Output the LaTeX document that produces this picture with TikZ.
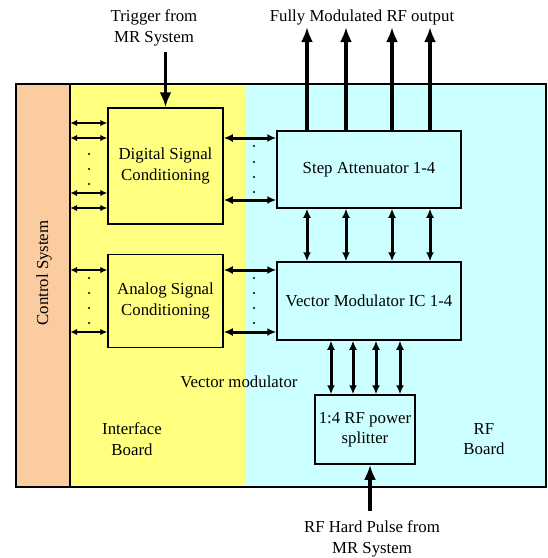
\documentclass[tikz,border=0pt]{standalone}
\usepackage{fontspec}
\setmainfont{Liberation Serif}
\usetikzlibrary{arrows.meta,calc}
\definecolor{ctrlorange}{RGB}{251,204,160}
\definecolor{ifyellow}{RGB}{255,255,128}
\definecolor{rfcyan}{RGB}{204,255,255}
\begin{document}
\begin{tikzpicture}[x=1pt,y=-1pt,
  every node/.style={font=\fontsize{16.8}{20.5}\selectfont, inner sep=0pt, align=center},
  region/.style={draw=none, minimum height=403pt},
  blockbox/.style={draw=black, line width=1.5pt},
  bigout/.style={line width=3.4pt, -{Latex[length=15pt,width=12pt]}},
  dblarrow/.style={line width=3pt, {Latex[length=9pt,width=8pt]}-{Latex[length=9pt,width=8pt]}},
  smalldbl/.style={line width=2.6pt, {Latex[length=7pt,width=6.5pt]}-{Latex[length=7pt,width=6.5pt]}},
  dotmark/.style={fill=black, circle, minimum size=2.2pt, inner sep=0pt}
]
\useasboundingbox (0,0) rectangle (548,558);
% regions
\node[region, fill=ctrlorange, minimum width=54pt] (ctrl) at (43,285.5) {};
\node[region, fill=ifyellow, minimum width=176pt] (iface) at (158,285.5) {};
\node[region, fill=rfcyan, minimum width=300pt] (rf) at (396,285.5) {};
\draw[line width=1.5pt] (ctrl.north west) rectangle (rf.south east);
\draw[line width=1.5pt] (ctrl.north east) -- (ctrl.south east);
% blocks
\node[blockbox, fill=ifyellow, minimum width=115pt, minimum height=116pt] (dig) at (165.5,166) {Digital Signal\\Conditioning};
\node[blockbox, fill=ifyellow, minimum width=115pt, minimum height=93pt] (ana) at (165.5,301) {Analog Signal\\Conditioning};
\node[blockbox, fill=rfcyan, minimum width=184pt, minimum height=77pt] (step) at (369,169.5) {Step Attenuator 1-4};
\node[blockbox, fill=rfcyan, minimum width=184pt, minimum height=78pt] (vec) at (369,301) {Vector Modulator IC 1-4};
\node[blockbox, fill=rfcyan, minimum width=100pt, minimum height=69pt] (split) at (365,429.5) {1:4 RF power\\splitter};
% labels
\node (trig) at (154,28) {Trigger from\\MR System};
\node (fmrf) at (362,17) {Fully Modulated RF output};
\node (rfin) at (372,539) {RF Hard Pulse from\\MR System};
\node (vmlab) at (239,382) {Vector modulator};
\node (iflab) at (132,439) {Interface\\Board};
\node (rflab) at (484,439) {RF\\Board};
\node[rotate=90] (ctlab) at (44,273) {Control System};
% trigger and RF input
\draw[bigout] (trig.south -| dig.north) ++(0,6) coordinate (trigtail) -- (dig.north);
\draw[bigout] ($(rfin.north)+(-2,-10)$) coordinate (rftail) -- (split.south -| rftail);
% outputs
\foreach \x/\n in {307/o1,346/o2,392/o3,430/o4}{
  \coordinate (\n) at (\x,27);
  \draw[bigout] (step.north -| \n) -- (\n);
  \draw[dblarrow] (step.south -| \n) -- (vec.north -| \n);
}
% vector modulator to splitter
\foreach \x in {331,353,376,400}{
  \draw[dblarrow] (vec.south -| \x,0) -- (split.north -| \x,0);
}
% control to digital
\foreach \y in {123,138,193,208}{
  \draw[smalldbl] (ctrl.east |- 0,\y) -- (dig.west |- 0,\y);
}
\foreach \y in {270,332}{
  \draw[smalldbl] (ctrl.east |- 0,\y) -- (ana.west |- 0,\y);
  \draw[dblarrow] (ana.east |- 0,\y) -- (vec.west |- 0,\y);
}
\foreach \y in {138,200}{
  \draw[dblarrow] (dig.east |- 0,\y) -- (step.west |- 0,\y);
}
% dots
\foreach \y in {154,169,184}{ \node[dotmark] (dl\y) at (89,\y) {}; }
\foreach \y in {146,162,177,192}{ \node[dotmark] (dr\y) at (254,\y) {}; }
\foreach \y in {278,293,308,323}{
  \node[dotmark] (al\y) at (89,\y) {};
  \node[dotmark] (ar\y) at (254,\y) {};
}
\end{tikzpicture}
\end{document}
